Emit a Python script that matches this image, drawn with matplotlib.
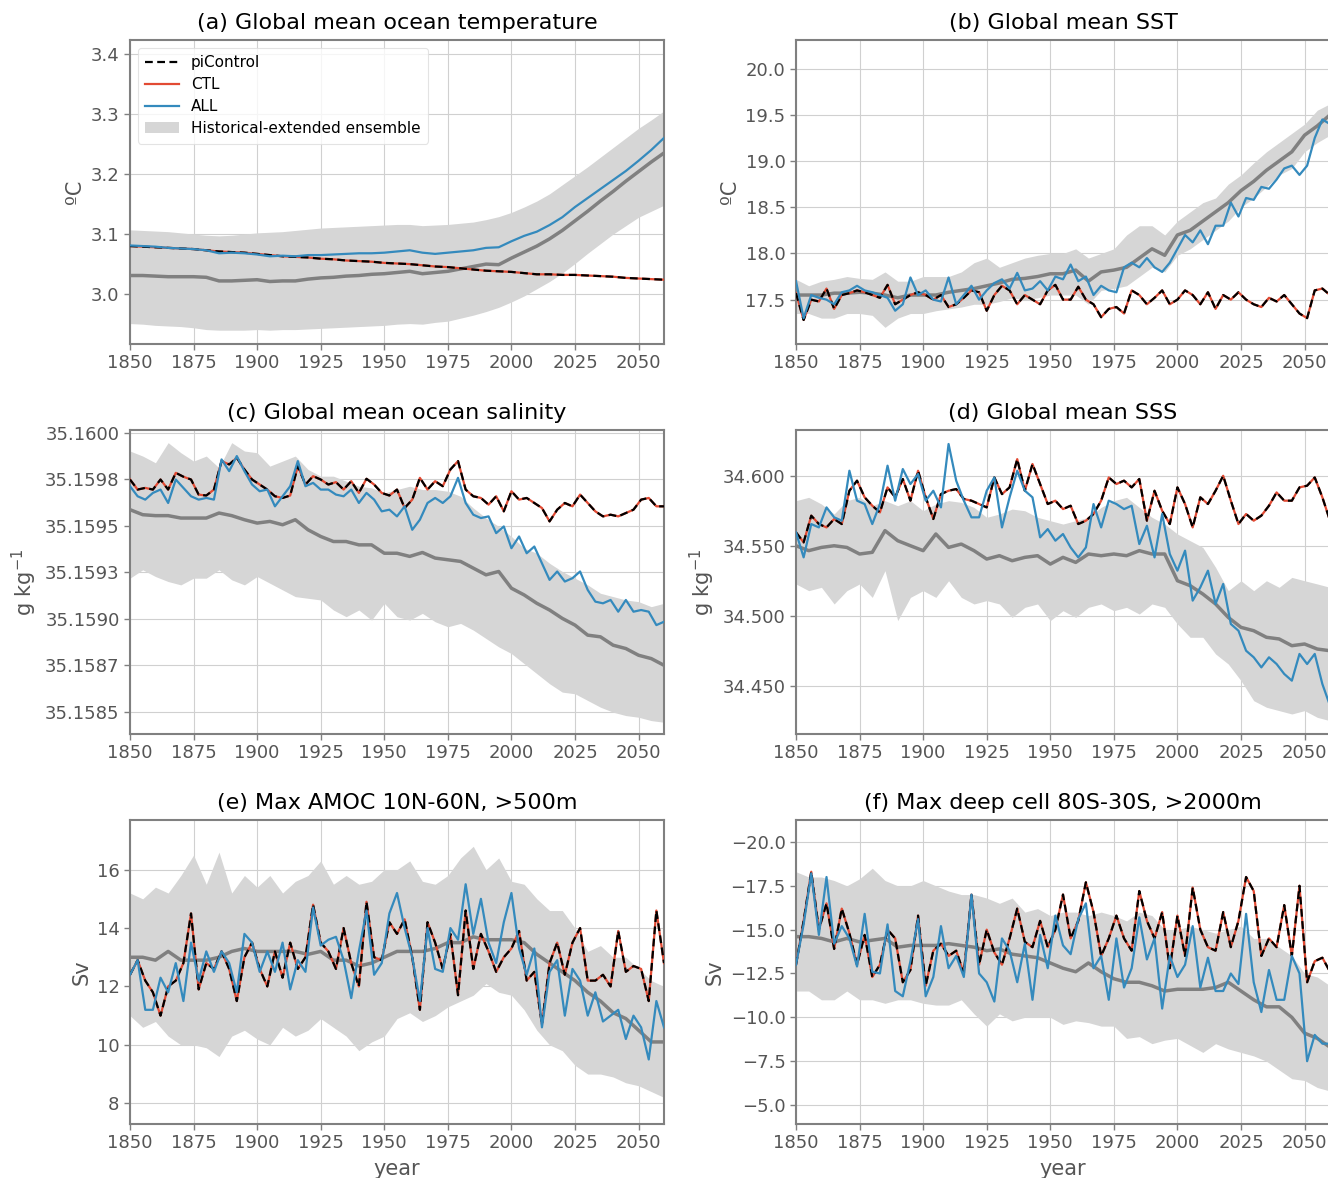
import matplotlib
matplotlib.use("Agg")
import matplotlib.pyplot as plt
import numpy as np
from matplotlib.ticker import MultipleLocator, FormatStrFormatter, FixedLocator, FixedFormatter

yr3 = np.arange(1850, 2061, 3)
yr5 = np.arange(1850, 2061, 5)

# (a) global mean ocean temperature, every 5 years
a_all = [3.081, 3.080, 3.079, 3.077, 3.076, 3.075, 3.073, 3.068, 3.069, 3.068,
         3.066, 3.063, 3.064, 3.063, 3.065, 3.065, 3.066, 3.067, 3.068, 3.068,
         3.069, 3.071, 3.073, 3.069, 3.067, 3.069, 3.071, 3.073, 3.077, 3.078,
         3.088, 3.097, 3.104, 3.115, 3.128, 3.145, 3.160, 3.175, 3.190, 3.205,
         3.222, 3.240, 3.260]
a_pic = [3.080, 3.079, 3.078, 3.077, 3.076, 3.075, 3.073, 3.071, 3.070, 3.069,
         3.067, 3.065, 3.063, 3.062, 3.061, 3.059, 3.058, 3.056, 3.055, 3.054,
         3.052, 3.051, 3.050, 3.048, 3.046, 3.045, 3.043, 3.041, 3.039, 3.038,
         3.037, 3.035, 3.033, 3.033, 3.032, 3.032, 3.031, 3.030, 3.029, 3.027,
         3.026, 3.025, 3.024]
a_ctl = a_pic
a_mean = [3.031, 3.031, 3.030, 3.029, 3.029, 3.029, 3.028, 3.022, 3.022, 3.023,
          3.024, 3.021, 3.022, 3.022, 3.025, 3.027, 3.028, 3.030, 3.031, 3.033,
          3.034, 3.036, 3.038, 3.034, 3.036, 3.038, 3.042, 3.046, 3.050, 3.049,
          3.060, 3.070, 3.080, 3.092, 3.106, 3.122, 3.138, 3.155, 3.171, 3.188,
          3.204, 3.220, 3.235]
a_hi = [3.107, 3.106, 3.105, 3.104, 3.102, 3.100, 3.098, 3.097, 3.098, 3.100,
        3.102, 3.103, 3.104, 3.106, 3.108, 3.110, 3.111, 3.112, 3.113, 3.114,
        3.115, 3.116, 3.116, 3.114, 3.115, 3.116, 3.118, 3.120, 3.124, 3.129,
        3.136, 3.145, 3.155, 3.167, 3.182, 3.197, 3.212, 3.228, 3.244, 3.260,
        3.276, 3.290, 3.305]
a_lo = [2.951, 2.950, 2.948, 2.947, 2.946, 2.944, 2.941, 2.940, 2.940, 2.940,
        2.941, 2.940, 2.941, 2.941, 2.942, 2.943, 2.944, 2.945, 2.946, 2.947,
        2.948, 2.950, 2.951, 2.950, 2.953, 2.955, 2.960, 2.965, 2.971, 2.978,
        2.987, 2.997, 3.009, 3.021, 3.035, 3.051, 3.068, 3.084, 3.100, 3.114,
        3.128, 3.138, 3.148]

# (b) global mean SST
b_pic = [17.57, 17.28, 17.50, 17.48, 17.62, 17.40, 17.55, 17.57, 17.60, 17.58,
         17.55, 17.52, 17.66, 17.45, 17.50, 17.55, 17.58, 17.55, 17.50, 17.55,
         17.42, 17.45, 17.52, 17.60, 17.58, 17.38, 17.55, 17.65, 17.60, 17.45,
         17.55, 17.50, 17.45, 17.60, 17.66, 17.50, 17.50, 17.64, 17.50, 17.45,
         17.31, 17.40, 17.42, 17.35, 17.60, 17.55, 17.45, 17.52, 17.60, 17.45,
         17.50, 17.60, 17.55, 17.45, 17.58, 17.40, 17.55, 17.50, 17.58, 17.50,
         17.45, 17.42, 17.52, 17.48, 17.55, 17.45, 17.35, 17.30, 17.60, 17.62,
         17.55]
b_ctl = b_pic
b_all = [17.70, 17.30, 17.55, 17.52, 17.50, 17.45, 17.58, 17.60, 17.65, 17.60,
         17.58, 17.55, 17.52, 17.38, 17.45, 17.74, 17.55, 17.60, 17.50, 17.48,
         17.74, 17.45, 17.55, 17.65, 17.50, 17.60, 17.68, 17.72, 17.62, 17.79,
         17.60, 17.62, 17.70, 17.60, 17.75, 17.72, 17.88, 17.70, 17.75, 17.55,
         17.65, 17.60, 17.58, 17.85, 17.90, 17.85, 17.95, 17.85, 17.80, 17.90,
         18.05, 18.20, 18.12, 18.25, 18.10, 18.30, 18.30, 18.55, 18.40, 18.60,
         18.58, 18.72, 18.70, 18.80, 18.92, 18.95, 18.85, 18.95, 19.25, 19.45,
         19.40]
b_mean = [17.55, 17.55, 17.55, 17.57, 17.57, 17.58, 17.57, 17.55, 17.52, 17.55,
          17.55, 17.55, 17.58, 17.60, 17.62, 17.65, 17.68, 17.72, 17.73, 17.75,
          17.78, 17.78, 17.82, 17.70, 17.80, 17.82, 17.85, 17.95, 18.05, 17.98,
          18.20, 18.25, 18.35, 18.45, 18.55, 18.68, 18.78, 18.90, 19.00, 19.10,
          19.28, 19.38, 19.50]
b_hi = [17.72, 17.65, 17.70, 17.72, 17.75, 17.73, 17.72, 17.80, 17.70, 17.70,
        17.75, 17.75, 17.75, 17.80, 17.90, 17.95, 17.85, 17.90, 17.95, 17.98,
        18.00, 18.00, 18.05, 17.95, 18.00, 18.05, 18.20, 18.30, 18.30, 18.20,
        18.35, 18.45, 18.55, 18.60, 18.75, 18.85, 18.98, 19.10, 19.20, 19.30,
        19.40, 19.55, 19.62]
b_lo = [17.35, 17.35, 17.30, 17.30, 17.35, 17.35, 17.33, 17.20, 17.30, 17.35,
        17.35, 17.38, 17.40, 17.42, 17.45, 17.45, 17.48, 17.52, 17.50, 17.52,
        17.55, 17.55, 17.55, 17.45, 17.60, 17.62, 17.65, 17.75, 17.85, 17.80,
        17.98, 18.05, 18.15, 18.25, 18.35, 18.50, 18.60, 18.72, 18.85, 18.92,
        19.10, 19.20, 19.28]

# (c) global mean ocean salinity
c_pic = [35.159748, 35.159694, 35.159703, 35.159694, 35.159748, 35.159694, 35.159784, 35.159763, 35.159748, 35.159667,
         35.159662, 35.159694, 35.159847, 35.159829, 35.159865, 35.159802, 35.159748, 35.159721, 35.159694, 35.159658,
         35.159649, 35.159662, 35.159820, 35.159721, 35.159766, 35.159748, 35.159721, 35.159734, 35.159694, 35.159739,
         35.159676, 35.159752, 35.159721, 35.159676, 35.159662, 35.159694, 35.159595, 35.159640, 35.159757, 35.159694,
         35.159739, 35.159712, 35.159802, 35.159847, 35.159694, 35.159658, 35.159649, 35.159613, 35.159658, 35.159577,
         35.159685, 35.159640, 35.159649, 35.159622, 35.159595, 35.159523, 35.159586, 35.159622, 35.159604, 35.159667,
         35.159622, 35.159577, 35.159550, 35.159559, 35.159550, 35.159568, 35.159586, 35.159640, 35.159649, 35.159604,
         35.159604]
c_ctl = c_pic
c_all = [35.159712, 35.159658, 35.159640, 35.159676, 35.159694, 35.159622, 35.159748, 35.159703, 35.159658, 35.159640,
         35.159649, 35.159640, 35.159856, 35.159793, 35.159874, 35.159793, 35.159721, 35.159685, 35.159694, 35.159604,
         35.159658, 35.159712, 35.159847, 35.159712, 35.159730, 35.159694, 35.159694, 35.159667, 35.159658, 35.159694,
         35.159622, 35.159676, 35.159640, 35.159577, 35.159586, 35.159550, 35.159604, 35.159478, 35.159532, 35.159622,
         35.159649, 35.159622, 35.159658, 35.159757, 35.159622, 35.159559, 35.159541, 35.159550, 35.159460, 35.159496,
         35.159379, 35.159442, 35.159352, 35.159388, 35.159298, 35.159209, 35.159254, 35.159200, 35.159218, 35.159254,
         35.159155, 35.159092, 35.159083, 35.159101, 35.159038, 35.159101, 35.159038, 35.159047, 35.159038, 35.158966,
         35.158984]
c_mean = [35.159586, 35.159559, 35.159554, 35.159554, 35.159541, 35.159541, 35.159541, 35.159568, 35.159554, 35.159532,
          35.159514, 35.159523, 35.159505, 35.159532, 35.159478, 35.159442, 35.159415, 35.159415, 35.159397, 35.159397,
          35.159352, 35.159352, 35.159335, 35.159356, 35.159326, 35.159317, 35.159308, 35.159272, 35.159236, 35.159254,
          35.159164, 35.159128, 35.159083, 35.159047, 35.159002, 35.158966, 35.158912, 35.158903, 35.158858, 35.158840,
          35.158804, 35.158786, 35.158750]
c_hi = [35.159901, 35.159874, 35.159838, 35.159946, 35.159892, 35.159847, 35.159874, 35.159811, 35.159946, 35.159901,
        35.159892, 35.159820, 35.159847, 35.159874, 35.159802, 35.159766, 35.159766, 35.159739, 35.159712, 35.159703,
        35.159676, 35.159694, 35.159712, 35.159694, 35.159694, 35.159685, 35.159658, 35.159595, 35.159541, 35.159496,
        35.159442, 35.159379, 35.159352, 35.159298, 35.159254, 35.159218, 35.159182, 35.159137, 35.159119, 35.159101,
        35.159092, 35.159065, 35.159083]
c_lo = [35.159218, 35.159263, 35.159227, 35.159200, 35.159182, 35.159218, 35.159218, 35.159263, 35.159209, 35.159182,
        35.159227, 35.159191, 35.159155, 35.159119, 35.159110, 35.159101, 35.159047, 35.159011, 35.159047, 35.158993,
        35.159083, 35.159011, 35.158993, 35.159029, 35.158984, 35.158957, 35.158975, 35.158939, 35.158894, 35.158849,
        35.158813, 35.158759, 35.158705, 35.158651, 35.158606, 35.158597, 35.158561, 35.158525, 35.158498, 35.158480,
        35.158471, 35.158453, 35.158444]
c_ticks = [35.1585, 35.15875, 35.159, 35.15925, 35.1595, 35.15975, 35.16]
c_ticklabels = ["35.1585", "35.1587", "35.1590", "35.1593", "35.1595", "35.1598", "35.1600"]

# (d) global mean SSS
d_pic = [34.5598, 34.5526, 34.5717, 34.5657, 34.5633, 34.5693, 34.5657, 34.5895, 34.5967, 34.5848,
         34.5788, 34.5740, 34.5919, 34.5848, 34.5979, 34.5824, 34.6038, 34.5848, 34.5693, 34.5871,
         34.5895, 34.5907, 34.5836, 34.5824, 34.5800, 34.5776, 34.5990, 34.5871, 34.5919, 34.6121,
         34.5895, 34.6086, 34.5943, 34.5800, 34.5824, 34.5764, 34.5788, 34.5657, 34.5681, 34.5729,
         34.5824, 34.5990, 34.5943, 34.5967, 34.5919, 34.5979, 34.5681, 34.5895, 34.5752, 34.5657,
         34.5919, 34.5800, 34.5633, 34.5848, 34.5800, 34.5895, 34.6002, 34.5824, 34.5657, 34.5729,
         34.5681, 34.5717, 34.5788, 34.5883, 34.5824, 34.5824, 34.5919, 34.5931, 34.5990, 34.5848,
         34.5681]
d_ctl = d_pic
d_all = [34.5598, 34.5419, 34.5657, 34.5633, 34.5776, 34.5705, 34.5681, 34.6038, 34.5824, 34.5800,
         34.5657, 34.5800, 34.6074, 34.5824, 34.6050, 34.5943, 34.6014, 34.5824, 34.5895, 34.5776,
         34.6229, 34.5967, 34.5824, 34.5705, 34.5705, 34.5895, 34.5990, 34.5633, 34.5848, 34.6038,
         34.5895, 34.5848, 34.5562, 34.5621, 34.5538, 34.5586, 34.5490, 34.5419, 34.5490, 34.5800,
         34.5633, 34.5824, 34.5800, 34.5764, 34.5788, 34.5514, 34.5645, 34.5419, 34.5729, 34.5443,
         34.5324, 34.5467, 34.5110, 34.5205, 34.5324, 34.5086, 34.5229, 34.4943, 34.4895, 34.4752,
         34.4705, 34.4633, 34.4705, 34.4657, 34.4586, 34.4538, 34.4729, 34.4657, 34.4729, 34.4514,
         34.4360]
d_mean = [34.5502, 34.5467, 34.5490, 34.5502, 34.5490, 34.5443, 34.5455, 34.5610, 34.5538, 34.5502,
          34.5467, 34.5586, 34.5490, 34.5514, 34.5467, 34.5407, 34.5431, 34.5395, 34.5419, 34.5431,
          34.5371, 34.5419, 34.5383, 34.5443, 34.5431, 34.5443, 34.5431, 34.5467, 34.5443, 34.5443,
          34.5252, 34.5217, 34.5157, 34.5086, 34.4990, 34.4919, 34.4895, 34.4848, 34.4836, 34.4788,
          34.4800, 34.4764, 34.4752]
d_hi = [34.5824, 34.5848, 34.5800, 34.5729, 34.5824, 34.5848, 34.5788, 34.5824, 34.5788, 34.5824,
        34.5752, 34.5800, 34.5824, 34.5812, 34.5776, 34.5705, 34.5729, 34.5764, 34.5752, 34.5705,
        34.5681, 34.5657, 34.5681, 34.5705, 34.5776, 34.5824, 34.5848, 34.5776, 34.5705, 34.5657,
        34.5586, 34.5538, 34.5490, 34.5348, 34.5181, 34.5252, 34.5181, 34.5252, 34.5205, 34.5276,
        34.5252, 34.5229, 34.5205]
d_lo = [34.5229, 34.5181, 34.5205, 34.5086, 34.5181, 34.5229, 34.5133, 34.5324, 34.4967, 34.5133,
        34.5181, 34.5133, 34.5252, 34.5133, 34.5086, 34.5110, 34.5086, 34.4990, 34.5062, 34.5086,
        34.4967, 34.5038, 34.4990, 34.5062, 34.5086, 34.5038, 34.5062, 34.5014, 34.5086, 34.5062,
        34.4943, 34.4848, 34.4848, 34.4729, 34.4657, 34.4538, 34.4395, 34.4348, 34.4324, 34.4300,
        34.4324, 34.4276, 34.4252]

# (e) max AMOC 10N-60N, >500m
e_pic = [12.4, 12.9, 12.2, 11.8, 11.0, 12.0, 12.2, 12.8, 14.5, 11.9,
         12.8, 12.6, 13.2, 12.6, 11.5, 13.0, 13.5, 12.6, 12.0, 13.2,
         12.3, 13.5, 12.6, 13.0, 14.8, 13.5, 13.2, 12.6, 14.0, 12.8,
         12.0, 14.9, 13.0, 12.9, 14.2, 13.8, 14.3, 13.0, 11.2, 14.2,
         13.5, 12.6, 13.8, 11.7, 14.6, 12.6, 13.8, 13.2, 12.5, 13.0,
         13.3, 13.9, 12.2, 12.5, 10.7, 12.8, 13.5, 12.4, 13.5, 14.0,
         12.2, 12.2, 12.4, 12.0, 13.9, 12.5, 12.7, 12.6, 11.5, 14.6,
         12.8]
e_ctl = e_pic
e_all = [12.4, 12.9, 11.2, 11.2, 12.3, 11.8, 12.8, 11.5, 13.5, 12.2,
         13.2, 12.5, 13.2, 12.8, 11.8, 13.8, 13.5, 12.5, 13.2, 12.5,
         13.5, 11.9, 12.9, 12.5, 14.7, 13.4, 13.6, 13.7, 12.9, 11.6,
         13.2, 14.6, 12.4, 12.8, 14.5, 15.2, 14.0, 13.0, 11.5, 14.0,
         12.6, 12.5, 14.0, 13.6, 15.5, 13.8, 15.0, 13.5, 12.8, 14.2,
         15.2, 13.3, 12.4, 13.3, 10.6, 12.5, 12.9, 11.0, 12.6, 12.2,
         11.0, 11.8, 10.8, 11.0, 11.2, 10.2, 11.0, 10.6, 9.5, 11.5,
         10.6]
e_mean = [13.0, 13.0, 12.9, 13.2, 12.9, 12.9, 12.9, 13.0, 13.2, 13.3,
          13.2, 13.2, 13.2, 13.2, 13.1, 13.2, 12.9, 12.9, 12.7, 12.8,
          13.0, 13.2, 13.2, 13.2, 13.3, 13.5, 13.5, 13.7, 13.6, 13.6,
          13.6, 13.5, 13.1, 12.8, 12.5, 12.2, 11.8, 11.5, 11.1, 10.9,
          10.5, 10.1, 10.1]
e_hi = [15.2, 15.0, 15.4, 15.2, 15.8, 16.5, 15.5, 16.6, 15.2, 15.8,
        15.4, 15.8, 15.2, 15.6, 15.8, 16.3, 15.5, 15.8, 15.5, 15.6,
        16.0, 16.0, 16.3, 15.6, 15.5, 15.8, 16.4, 16.8, 16.0, 16.4,
        15.6, 15.5, 15.0, 14.6, 14.6, 14.0, 13.2, 13.4, 13.0, 13.0,
        12.6, 12.2, 12.0]
e_lo = [11.0, 10.6, 10.8, 10.3, 10.0, 10.0, 9.9, 9.6, 10.3, 10.5,
        10.2, 10.0, 10.6, 10.3, 10.5, 10.9, 10.6, 10.3, 9.8, 10.1,
        10.3, 10.9, 11.1, 10.8, 11.0, 11.3, 11.5, 11.7, 12.1, 11.8,
        11.7, 11.2, 10.5, 10.0, 9.8, 9.3, 9.0, 9.0, 8.9, 8.7,
        8.6, 8.4, 8.2]

# (f) max deep cell 80S-30S, >2000m
f_pic = [-13.0, -15.5, -18.3, -15.0, -16.5, -13.9, -16.2, -14.8, -13.0, -14.7,
         -12.3, -13.0, -15.0, -14.5, -12.0, -12.7, -15.8, -11.8, -13.8, -14.2,
         -13.5, -13.8, -12.5, -17.0, -13.0, -15.0, -13.7, -13.0, -14.5, -16.2,
         -14.3, -14.0, -15.5, -14.0, -15.0, -17.0, -14.5, -15.5, -17.7, -16.0,
         -13.5, -14.5, -15.8, -14.5, -13.8, -17.2, -15.5, -14.5, -16.0, -12.8,
         -15.8, -13.5, -17.4, -15.0, -14.0, -13.8, -16.0, -14.0, -15.5, -18.0,
         -17.2, -13.5, -14.5, -14.0, -16.4, -13.5, -17.5, -12.0, -13.2, -13.4,
         -12.6]
f_ctl = f_pic
f_all = [-13.0, -15.3, -18.2, -14.7, -18.0, -14.2, -15.2, -14.5, -12.9, -15.9,
         -12.6, -12.5, -15.3, -11.5, -11.2, -13.2, -15.6, -11.2, -12.3, -15.2,
         -12.8, -13.5, -12.3, -17.0, -12.5, -12.0, -10.9, -14.5, -13.8, -12.0,
         -14.2, -11.0, -14.7, -12.8, -15.8, -14.1, -13.6, -15.6, -16.5, -12.8,
         -13.5, -11.0, -14.5, -11.7, -12.8, -15.7, -13.3, -14.5, -10.5, -13.5,
         -12.3, -13.0, -15.2, -11.7, -13.4, -11.5, -11.5, -12.5, -11.9, -15.9,
         -12.0, -10.3, -12.7, -11.0, -11.0, -13.5, -12.5, -7.5, -9.0, -8.5,
         -8.5]
f_mean = [-14.6, -14.6, -14.5, -14.3, -14.5, -14.3, -14.4, -14.5, -14.0, -14.1,
          -14.1, -14.1, -14.2, -14.1, -14.0, -13.8, -13.9, -13.6, -13.5, -13.4,
          -13.1, -12.8, -12.6, -13.1, -12.6, -12.2, -12.0, -12.0, -11.8, -11.5,
          -11.6, -11.6, -11.6, -11.7, -12.0, -11.5, -11.0, -10.6, -10.6, -10.0,
          -9.1, -8.8, -8.3]
f_hi = [-18.3, -18.0, -18.0, -17.8, -17.5, -17.9, -18.5, -17.8, -17.5, -17.5,
        -17.8, -17.5, -17.2, -17.0, -17.0, -16.8, -16.5, -16.8, -16.0, -16.2,
        -15.8, -16.0, -16.0, -15.8, -16.0, -15.8, -15.5, -16.0, -15.8, -15.0,
        -15.0, -15.2, -15.0, -14.8, -15.0, -15.2, -14.5, -14.5, -14.0, -13.5,
        -12.5, -12.3, -11.8]
f_lo = [-11.5, -11.5, -11.0, -11.0, -11.5, -11.0, -11.0, -10.8, -11.0, -11.0,
        -10.8, -10.7, -10.7, -11.0, -10.2, -9.5, -10.2, -9.8, -10.0, -10.0,
        -10.0, -9.6, -9.8, -9.7, -9.5, -9.5, -8.8, -8.9, -8.5, -8.7,
        -8.8, -8.4, -8.0, -8.5, -8.2, -8.0, -7.8, -7.5, -7.0, -6.5,
        -6.4, -6.0, -5.8]

titles = ["(a) Global mean ocean temperature", "(b) Global mean SST",
          "(c) Global mean ocean salinity", "(d) Global mean SSS",
          "(e) Max AMOC 10N-60N, >500m", "(f) Max deep cell 80S-30S, >2000m"]
ylabels = ["ºC", "ºC", "g kg$^{-1}$", "g kg$^{-1}$", "Sv", "Sv"]

RED = "#E24A33"
BLUE = "#348ABD"
MEAN_GRAY = "#808080"
TXT = "#555555"

fig = plt.figure(figsize=(13.28, 11.78), dpi=100)

lefts = [130 / 1328, 796 / 1328]
width = 534 / 1328
bottoms = [1 - 344 / 1178, 1 - 734 / 1178, 1 - 1124 / 1178]
height = 304 / 1178

panels = [
    (yr5, a_pic, a_ctl, a_all, yr5, a_mean, a_lo, a_hi),
    (yr3, b_pic, b_ctl, b_all, yr5, b_mean, b_lo, b_hi),
    (yr3, c_pic, c_ctl, c_all, yr5, c_mean, c_lo, c_hi),
    (yr3, d_pic, d_ctl, d_all, yr5, d_mean, d_lo, d_hi),
    (yr3, e_pic, e_ctl, e_all, yr5, e_mean, e_lo, e_hi),
    (yr3, f_pic, f_ctl, f_all, yr5, f_mean, f_lo, f_hi),
]

axes = []
for i, (xr, pic, ctl, allf, xe, mean, lo, hi) in enumerate(panels):
    ax = fig.add_axes([lefts[i % 2], bottoms[i // 2], width, height])
    axes.append(ax)
    ax.fill_between(xe, lo, hi, color="#d6d6d6", lw=0, zorder=1,
                    label="Historical-extended ensemble")
    ax.plot(xe, mean, color=MEAN_GRAY, lw=2.5, zorder=2)
    ax.plot(xr, ctl, color=RED, lw=1.6, zorder=3, label="CTL")
    ax.plot(xr, pic, color="black", lw=1.6, ls=(0, (3.5, 2)), zorder=4, label="piControl")
    ax.plot(xr, allf, color=BLUE, lw=1.6, zorder=5, label="ALL")

    ax.set_xlim(1850, 2060)
    ax.xaxis.set_major_locator(MultipleLocator(25))
    ax.grid(True, color="#d0d0d0", lw=0.8, zorder=0)
    ax.set_axisbelow(True)
    for sp in ax.spines.values():
        sp.set_color("#808080")
        sp.set_linewidth(1.5)
    ax.tick_params(labelsize=13, labelcolor=TXT, color="#808080", length=4, width=1)
    ax.set_title(titles[i], fontsize=16, pad=8)
    ax.set_ylabel(ylabels[i], fontsize=15, color=TXT)
    if i >= 4:
        ax.set_xlabel("year", fontsize=15, color=TXT, labelpad=5)

# axis ranges and ticks per panel
axes[0].set_ylim(2.917, 3.423)
axes[0].yaxis.set_major_locator(MultipleLocator(0.1))
axes[0].yaxis.set_major_formatter(FormatStrFormatter("%.1f"))

axes[1].set_ylim(17.02, 20.31)
axes[1].yaxis.set_major_locator(MultipleLocator(0.5))
axes[1].yaxis.set_major_formatter(FormatStrFormatter("%.1f"))

axes[2].set_ylim(35.158381, 35.160014)
axes[2].yaxis.set_major_locator(FixedLocator(c_ticks))
axes[2].yaxis.set_major_formatter(FixedFormatter(c_ticklabels))

axes[3].set_ylim(34.4157, 34.6329)
axes[3].yaxis.set_major_locator(MultipleLocator(0.05))
axes[3].yaxis.set_major_formatter(FormatStrFormatter("%.3f"))

axes[4].set_ylim(7.29, 17.70)
axes[4].yaxis.set_major_locator(MultipleLocator(2))

axes[5].set_ylim(-3.92, -21.25)
axes[5].yaxis.set_major_locator(MultipleLocator(2.5))
axes[5].yaxis.set_major_formatter(plt.FuncFormatter(lambda v, p: ("%.1f" % v).replace("-", "\u2212")))

h, l = axes[0].get_legend_handles_labels()
order = [l.index("piControl"), l.index("CTL"), l.index("ALL"), l.index("Historical-extended ensemble")]
leg = axes[0].legend([h[k] for k in order], [l[k] for k in order], loc="upper left",
                     fontsize=11, frameon=True, handlelength=2.2, borderpad=0.5,
                     labelspacing=0.45, bbox_to_anchor=(0.0, 1.0))
leg.get_frame().set_edgecolor("#dddddd")
leg.get_frame().set_linewidth(0.8)

fig.savefig("out.png", dpi=100)
